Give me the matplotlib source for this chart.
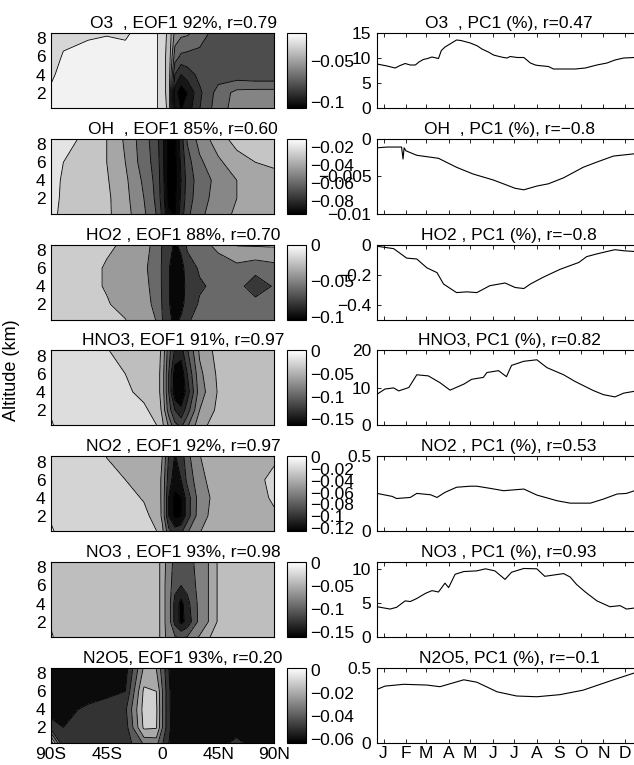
import numpy as np
import matplotlib
matplotlib.use('Agg')
import matplotlib.pyplot as plt
from matplotlib import cm, colors as mcolors

plt.rcParams['font.family'] = ['Liberation Sans', 'DejaVu Sans']
plt.rcParams['font.size'] = 12.5
plt.rcParams['axes.linewidth'] = 0.8
plt.rcParams['contour.negative_linestyle'] = 'solid'

M = '\u2212'
FS = 12.5

# ---------------- data ----------------
species = ['O3  ', 'OH  ', 'HO2 ', 'HNO3', 'NO2 ', 'NO3 ', 'N2O5']
eof_pct = [92, 85, 88, 91, 92, 93, 93]
eof_r = ['0.79', '0.60', '0.70', '0.97', '0.97', '0.98', '0.20']
pc_r = ['0.47', M + '0.8', M + '0.8', '0.82', '0.53', '0.93', M + '0.1']

lat = [-90, -80, -60, -45, -30, -15, -5, 0, 5, 10, 15, 20, 30, 45, 60, 75, 90]
alt = [0, 2, 4, 6, 9]

o3_eof = [
    [-0.018, -0.017, -0.016, -0.016, -0.016, -0.016, -0.018, -0.028, -0.031, -0.09, -0.1, -0.095, -0.08, -0.064, -0.056, -0.055, -0.055],
    [-0.019, -0.017, -0.016, -0.016, -0.016, -0.016, -0.018, -0.028, -0.032, -0.095, -0.106, -0.1, -0.082, -0.066, -0.057, -0.056, -0.056],
    [-0.021, -0.018, -0.016, -0.016, -0.016, -0.016, -0.018, -0.028, -0.032, -0.08, -0.09, -0.085, -0.077, -0.075, -0.076, -0.078, -0.078],
    [-0.025, -0.019, -0.017, -0.017, -0.017, -0.017, -0.018, -0.028, -0.032, -0.065, -0.072, -0.073, -0.074, -0.075, -0.075, -0.075, -0.075],
    [-0.028, -0.024, -0.022, -0.021, -0.022, -0.017, -0.018, -0.028, -0.031, -0.052, -0.055, -0.056, -0.062, -0.075, -0.075, -0.075, -0.075],
]
oh_eof = [
    [-0.019, -0.021, -0.024, -0.028, -0.036, -0.048, -0.06, -0.072, -0.088, -0.09, -0.075, -0.062, -0.052, -0.044, -0.038, -0.034, -0.032],
    [-0.018, -0.021, -0.024, -0.028, -0.037, -0.05, -0.062, -0.075, -0.092, -0.092, -0.078, -0.065, -0.054, -0.046, -0.04, -0.036, -0.034],
    [-0.017, -0.021, -0.024, -0.029, -0.038, -0.052, -0.063, -0.076, -0.093, -0.093, -0.08, -0.066, -0.055, -0.047, -0.04, -0.036, -0.034],
    [-0.015, -0.02, -0.024, -0.03, -0.04, -0.055, -0.064, -0.077, -0.093, -0.093, -0.078, -0.064, -0.052, -0.042, -0.034, -0.03, -0.028],
    [-0.013, -0.016, -0.022, -0.03, -0.042, -0.056, -0.066, -0.078, -0.092, -0.092, -0.074, -0.058, -0.045, -0.033, -0.025, -0.022, -0.02],
]
ho2_eof = [
    [-0.014, -0.015, -0.016, -0.017, -0.019, -0.027, -0.04, -0.06, -0.075, -0.085, -0.075, -0.062, -0.052, -0.046, -0.045, -0.045, -0.045],
    [-0.014, -0.015, -0.017, -0.019, -0.024, -0.033, -0.045, -0.062, -0.078, -0.09, -0.088, -0.07, -0.058, -0.05, -0.048, -0.052, -0.05],
    [-0.014, -0.015, -0.017, -0.021, -0.027, -0.035, -0.047, -0.063, -0.078, -0.095, -0.092, -0.072, -0.062, -0.056, -0.052, -0.072, -0.058],
    [-0.014, -0.015, -0.017, -0.021, -0.026, -0.037, -0.048, -0.063, -0.078, -0.095, -0.09, -0.068, -0.058, -0.05, -0.046, -0.052, -0.047],
    [-0.014, -0.015, -0.016, -0.018, -0.021, -0.034, -0.045, -0.062, -0.072, -0.082, -0.07, -0.055, -0.045, -0.032, -0.014, -0.012, -0.012],
]
hno3_eof = [
    [0.004, -0.01, -0.012, -0.013, -0.015, -0.017, -0.019, -0.035, -0.06, -0.09, -0.1, -0.08, -0.045, -0.03, -0.026, -0.025, -0.025],
    [-0.003, -0.012, -0.013, -0.014, -0.016, -0.018, -0.024, -0.045, -0.09, -0.12, -0.135, -0.11, -0.06, -0.035, -0.028, -0.027, -0.027],
    [-0.012, -0.013, -0.014, -0.016, -0.018, -0.023, -0.028, -0.05, -0.1, -0.155, -0.16, -0.13, -0.07, -0.038, -0.03, -0.028, -0.028],
    [-0.013, -0.014, -0.015, -0.017, -0.02, -0.025, -0.028, -0.05, -0.1, -0.15, -0.155, -0.12, -0.065, -0.036, -0.03, -0.028, -0.028],
    [-0.013, -0.014, -0.016, -0.02, -0.025, -0.026, -0.028, -0.045, -0.09, -0.12, -0.125, -0.1, -0.055, -0.032, -0.028, -0.028, -0.028],
]
no2_eof = [
    [0.004, -0.008, -0.01, -0.011, -0.013, -0.016, -0.019, -0.035, -0.07, -0.085, -0.08, -0.06, -0.04, -0.028, -0.026, -0.025, -0.025],
    [-0.003, -0.01, -0.011, -0.012, -0.014, -0.017, -0.024, -0.045, -0.1, -0.125, -0.12, -0.09, -0.048, -0.03, -0.027, -0.025, -0.022],
    [-0.01, -0.011, -0.012, -0.014, -0.016, -0.021, -0.027, -0.045, -0.1, -0.125, -0.12, -0.09, -0.05, -0.032, -0.027, -0.025, -0.018],
    [-0.011, -0.012, -0.013, -0.016, -0.02, -0.024, -0.027, -0.045, -0.09, -0.11, -0.1, -0.075, -0.045, -0.03, -0.027, -0.024, -0.016],
    [-0.011, -0.012, -0.014, -0.021, -0.024, -0.025, -0.027, -0.04, -0.08, -0.1, -0.09, -0.065, -0.04, -0.028, -0.027, -0.026, -0.024],
]
no3_eof = [
    [0.003, -0.03, -0.03, -0.03, -0.03, -0.03, -0.03, -0.048, -0.062, -0.07, -0.075, -0.07, -0.05, -0.03, -0.03, -0.03, -0.03],
    [-0.01, -0.03, -0.03, -0.03, -0.03, -0.03, -0.03, -0.048, -0.065, -0.12, -0.15, -0.13, -0.07, -0.038, -0.03, -0.03, -0.03],
    [-0.03, -0.03, -0.03, -0.03, -0.03, -0.03, -0.03, -0.048, -0.065, -0.12, -0.15, -0.12, -0.07, -0.038, -0.03, -0.03, -0.03],
    [-0.03, -0.03, -0.03, -0.03, -0.03, -0.03, -0.03, -0.048, -0.065, -0.1, -0.11, -0.1, -0.07, -0.038, -0.03, -0.03, -0.03],
    [-0.03, -0.03, -0.03, -0.03, -0.03, -0.03, -0.03, -0.048, -0.062, -0.09, -0.095, -0.09, -0.07, -0.038, -0.03, -0.03, -0.03],
]
n2o5_eof = [
    [0.003, -0.045, -0.05, -0.048, -0.046, -0.03, -0.028, -0.04, -0.05, -0.055, -0.057, -0.057, -0.055, -0.053, -0.045, -0.055, -0.057],
    [-0.045, -0.05, -0.047, -0.045, -0.045, -0.008, -0.009, -0.03, -0.048, -0.055, -0.058, -0.058, -0.056, -0.055, -0.056, -0.056, -0.057],
    [-0.055, -0.053, -0.048, -0.045, -0.042, -0.006, -0.008, -0.03, -0.048, -0.056, -0.058, -0.058, -0.057, -0.055, -0.057, -0.057, -0.057],
    [-0.058, -0.058, -0.055, -0.053, -0.05, -0.008, -0.01, -0.03, -0.048, -0.057, -0.058, -0.058, -0.058, -0.057, -0.058, -0.058, -0.054],
    [-0.06, -0.06, -0.06, -0.058, -0.055, -0.02, -0.022, -0.035, -0.05, -0.058, -0.06, -0.06, -0.06, -0.06, -0.06, -0.06, -0.058],
]
eof_fields = [o3_eof, oh_eof, ho2_eof, hno3_eof, no2_eof, no3_eof, n2o5_eof]

# colour limits of each EOF colorbar
clims = [(-0.108, -0.015), (-0.094, -0.011), (-0.103, 0.001), (-0.163, 0.002),
         (-0.126, 0.002), (-0.162, 0.002), (-0.063, 0.002)]
# contour levels
contour_levels = [
    [-0.11, -0.10, -0.09, -0.08, -0.07, -0.06, -0.05, -0.04, -0.03, -0.02],
    [-0.09, -0.08, -0.07, -0.06, -0.05, -0.04, -0.03, -0.02],
    [-0.10, -0.08, -0.06, -0.04, -0.02],
    [-0.16, -0.14, -0.12, -0.10, -0.08, -0.06, -0.04, -0.02, 0.0],
    [-0.12, -0.10, -0.08, -0.06, -0.04, -0.02, 0.0],
    [-0.14, -0.11, -0.08, -0.055, -0.04, -0.005],
    [-0.06, -0.05, -0.04, -0.03, -0.02, -0.01, 0.0],
]
cb_ticks = [
    [-0.1, -0.05],
    [-0.08, -0.06, -0.04, -0.02],
    [-0.1, -0.05, 0],
    [-0.15, -0.1, -0.05, 0],
    [-0.12, -0.1, -0.08, -0.06, -0.04, -0.02, 0],
    [-0.15, -0.1, -0.05, 0],
    [-0.06, -0.04, -0.02, 0],
]
cb_labels = [
    [M + '0.1', M + '0.05'],
    [M + '0.08', M + '0.06', M + '0.04', M + '0.02'],
    [M + '0.1', M + '0.05', '0'],
    [M + '0.15', M + '0.1', M + '0.05', '0'],
    [M + '0.12', M + '0.1', M + '0.08', M + '0.06', M + '0.04', M + '0.02', '0'],
    [M + '0.15', M + '0.1', M + '0.05', '0'],
    [M + '0.06', M + '0.04', M + '0.02', '0'],
]

# PC1 time series (day of year, value)
o3_day = [6, 20, 31, 38, 45, 52, 59, 64, 70, 76, 82, 88, 91, 95, 100, 108, 116, 122, 135, 145, 151, 160, 167, 175, 181, 186, 190, 200, 209, 214, 218, 225, 229, 243, 250, 265, 280, 294, 310, 324, 335, 347, 362]
o3_pc = [8.8, 8.4, 8.0, 8.5, 8.9, 8.6, 8.6, 9.2, 9.7, 9.9, 10.2, 10.0, 9.9, 11.5, 12.2, 12.9, 13.6, 13.5, 13.0, 12.4, 11.8, 11.2, 10.6, 10.3, 10.1, 10.0, 10.3, 10.1, 10.1, 9.5, 9.0, 8.6, 8.5, 8.3, 7.8, 7.8, 7.8, 8.0, 8.6, 9.0, 9.6, 10.0, 10.1]
oh_day = [6, 20, 38, 40, 42, 43.5, 46, 61, 91, 116, 139, 167, 197, 209, 227, 243, 264, 291, 310, 333, 362]
oh_pc = [-0.0012, -0.0011, -0.0011, -0.0011, -0.0027, -0.0012, -0.0016, -0.0022, -0.0026, -0.0038, -0.0047, -0.0055, -0.0066, -0.0068, -0.0063, -0.006, -0.0052, -0.0038, -0.0031, -0.0023, -0.002]
ho2_day = [6, 29, 47, 61, 75, 89, 98, 116, 130, 144, 162, 183, 197, 209, 218, 236, 259, 285, 296, 310, 324, 335, 347, 362]
ho2_pc = [-0.011, -0.027, -0.09, -0.096, -0.155, -0.187, -0.263, -0.32, -0.315, -0.32, -0.274, -0.256, -0.286, -0.293, -0.263, -0.217, -0.165, -0.119, -0.08, -0.062, -0.046, -0.034, -0.041, -0.046]
hno3_day = [6, 17, 29, 36, 50, 61, 77, 93, 107, 126, 137, 153, 158, 174, 185, 192, 209, 227, 241, 264, 280, 305, 319, 335, 347, 362]
hno3_pc = [8.3, 9.7, 10.0, 9.2, 10.1, 13.5, 13.2, 11.4, 9.4, 11.0, 12.3, 12.8, 14.1, 14.6, 13.0, 16.0, 17.1, 17.5, 15.4, 13.5, 11.7, 9.3, 8.2, 7.6, 8.6, 9.1]
no2_day = [6, 27, 33, 52, 61, 80, 89, 100, 116, 135, 144, 162, 181, 209, 227, 255, 273, 301, 319, 338, 351, 362]
no2_pc = [0.252, 0.232, 0.218, 0.225, 0.252, 0.243, 0.225, 0.259, 0.293, 0.3, 0.3, 0.286, 0.27, 0.281, 0.241, 0.203, 0.187, 0.187, 0.214, 0.248, 0.252, 0.27]
no3_day = [6, 24, 33, 45, 52, 61, 73, 82, 91, 100, 105, 114, 126, 144, 156, 169, 183, 192, 209, 227, 238, 264, 273, 282, 294, 310, 328, 342, 351, 362]
no3_pc = [4.44, 4.1, 4.35, 5.3, 5.2, 5.65, 6.4, 6.8, 6.6, 7.9, 7.25, 9.2, 9.6, 9.7, 10.0, 9.7, 8.45, 9.5, 10.05, 10.0, 8.9, 9.3, 8.8, 7.7, 6.6, 5.3, 4.44, 4.6, 4.1, 4.25]
n2o5_day = [6, 17, 43, 75, 93, 126, 144, 172, 199, 227, 259, 291, 333, 362]
n2o5_pc = [0.356, 0.378, 0.39, 0.385, 0.374, 0.42, 0.404, 0.34, 0.312, 0.307, 0.321, 0.351, 0.42, 0.466]
pc_days = [o3_day, oh_day, ho2_day, hno3_day, no2_day, no3_day, n2o5_day]
pc_vals = [o3_pc, oh_pc, ho2_pc, hno3_pc, no2_pc, no3_pc, n2o5_pc]

pc_ylims = [(0, 15), (-0.01, 0), (-0.5, 0), (0, 20), (0, 0.5), (0, 11), (0, 0.5)]
pc_yticks = [[0, 5, 10, 15], [-0.01, -0.005, 0], [-0.4, -0.2, 0], [0, 10, 20],
             [0, 0.5], [0, 5, 10], [0, 0.5]]
pc_ylabels = [['0', '5', '10', '15'], [M + '0.01', M + '0.005', '0'], [M + '0.4', M + '0.2', '0'],
              ['0', '10', '20'], ['0', '0.5'], ['0', '5', '10'], ['0', '0.5']]

month_days = [15, 46, 74, 105, 135, 166, 196, 227, 258, 288, 319, 349]
month_labels = ['J', 'F', 'M', 'A', 'M', 'J', 'J', 'A', 'S', 'O', 'N', 'D']
lat_ticks = [-90, -45, 0, 45, 90]
lat_labels = ['90S', '45S', '0', '45N', '90N']

# ---------------- figure ----------------
W, H = 634, 765
fig = plt.figure(figsize=(W / 100, H / 100), dpi=100)


def fa(x0, y0, w, h):
    return [x0 / W, 1 - (y0 + h) / H, w / W, h / H]


cmap = plt.get_cmap('gray')
nrow = len(species)
for i in range(nrow):
    top = 33 + 105.8 * i
    axL = fig.add_axes(fa(51, top, 223, 75))
    cax = fig.add_axes(fa(287, top, 19, 75))
    axR = fig.add_axes(fa(377, top, 264, 75))

    vmin, vmax = clims[i]
    norm = mcolors.Normalize(vmin, vmax)
    lev = contour_levels[i]
    cols = [cmap(0.0)] + [cmap(float(np.clip(norm(l), 0, 1))) for l in lev]
    Z = np.array(eof_fields[i])
    axL.contourf(lat, alt, Z, levels=lev, colors=cols, extend='both')
    axL.contour(lat, alt, Z, levels=lev, colors='k', linewidths=0.6,
                linestyles='solid')
    axL.set_xlim(-90, 90)
    axL.set_ylim(0.3, 8.6)
    axL.set_yticks([2, 4, 6, 8])
    axL.set_xticks(lat_ticks)
    if i == nrow - 1:
        axL.set_xticklabels(lat_labels)
    else:
        axL.set_xticklabels([])
    axL.tick_params(length=0, pad=4, labelsize=FS)
    axL.tick_params(axis='x', pad=3)
    fig.text(183 / W, 1 - (top - 5) / H,
             f'{species[i]}, EOF1 {eof_pct[i]}%, r={eof_r[i]}',
             ha='center', va='baseline', fontsize=FS)

    sm = cm.ScalarMappable(norm=norm, cmap=cmap)
    cb = fig.colorbar(sm, cax=cax)
    cb.set_ticks(cb_ticks[i])
    cb.set_ticklabels(cb_labels[i])
    cax.tick_params(length=0, pad=3, labelsize=FS)
    cb.outline.set_linewidth(0.8)

    axR.plot(pc_days[i], pc_vals[i], color='k', lw=0.8)
    axR.set_xlim(6, 371)
    axR.set_ylim(*pc_ylims[i])
    axR.set_yticks(pc_yticks[i])
    axR.set_yticklabels(pc_ylabels[i])
    axR.set_xticks(month_days)
    if i == nrow - 1:
        axR.set_xticklabels(month_labels)
    else:
        axR.set_xticklabels([])
    axR.tick_params(direction='in', top=True, right=True, length=3, width=0.6,
                    labelsize=FS, pad=4)
    axR.tick_params(axis='x', pad=2.5)
    axR.set_title(f'{species[i]}, PC1 (%), r={pc_r[i]}', fontsize=FS, pad=3.6)

fig.text(12 / W, 1 - 370 / H, 'Altitude (km)', rotation=90, ha='center', va='center',
         fontsize=13)

fig.savefig('out.png', dpi=100)
